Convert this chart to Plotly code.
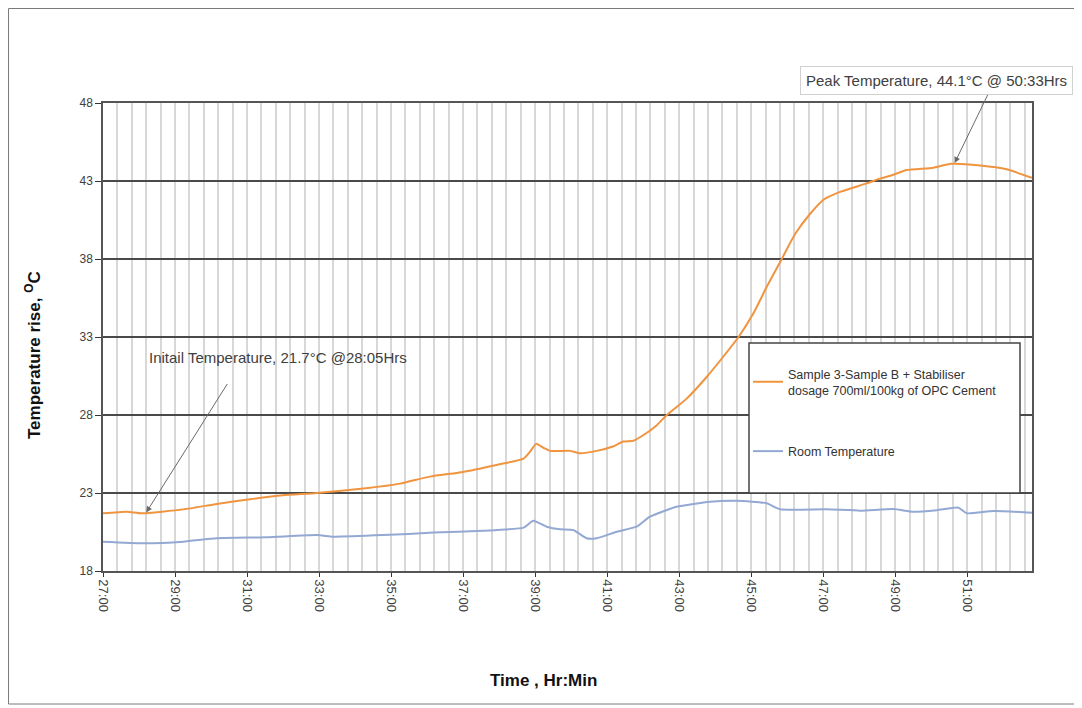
import plotly.graph_objects as go

# ---- data (time in decimal hours, temperature in °C) ----
sample_time = [27.0, 27.66, 28.08, 29.23, 30.16, 31.08, 32.0, 32.94, 34.3, 35.25, 36.08, 37.0,
               37.93, 38.68, 38.86, 39.03, 39.23, 39.42, 39.97, 40.25, 40.71, 41.18, 41.45,
               41.73, 42.0, 42.38, 42.66, 43.21, 43.77, 44.23, 44.65, 45.06, 45.43, 45.85,
               46.22, 46.64, 47.01, 47.47, 48.21, 48.58, 48.95, 49.32, 50.06, 50.55, 51.36,
               52.1, 52.8]
sample_temp = [21.7, 21.8, 21.7, 21.95, 22.3, 22.6, 22.85, 23.0, 23.3, 23.6, 24.05, 24.35,
               24.8, 25.2, 25.65, 26.15, 25.9, 25.7, 25.7, 25.55, 25.7, 26.0, 26.3,
               26.35, 26.7, 27.35, 28.0, 29.05, 30.45, 31.75, 33.0, 34.5, 36.2, 38.0,
               39.6, 40.9, 41.8, 42.3, 42.85, 43.15, 43.4, 43.7, 43.85, 44.1, 44.0,
               43.75, 43.2]

room_time = [27.0, 28.12, 29.23, 30.16, 31.55, 32.94, 33.4, 34.79, 36.18, 37.56, 38.68, 38.95,
             39.32, 39.69, 40.06, 40.43, 40.71, 41.27, 41.82, 42.19, 42.93, 43.86, 44.6,
             45.43, 45.8, 47.1, 48.03, 48.95, 49.5, 50.16, 50.76, 50.99, 51.73, 52.8]
room_temp = [19.88, 19.78, 19.88, 20.1, 20.16, 20.3, 20.2, 20.3, 20.46, 20.58, 20.78, 21.22,
             20.84, 20.67, 20.63, 20.1, 20.1, 20.52, 20.84, 21.48, 22.12, 22.44, 22.5,
             22.34, 21.96, 21.96, 21.87, 21.97, 21.8, 21.9, 22.06, 21.7, 21.85, 21.74]

tick_values = [27, 29, 31, 33, 35, 37, 39, 41, 43, 45, 47, 49, 51]
tick_labels = ["27:00", "29:00", "31:00", "33:00", "35:00", "37:00", "39:00", "41:00",
               "43:00", "45:00", "47:00", "49:00", "51:00"]

series_names = ["Sample 3-Sample B + Stabiliser<br>dosage 700ml/100kg of OPC Cement",
                "Room Temperature"]

FONT = "Liberation Sans, Arial, sans-serif"

# page offset of the figure (browser body margin) is 8px; plot area on page: x 103..1032, y 103..571
PL, PT, PW, PH = 103, 103, 929, 468


def px(xp):
    return (xp - PL) / PW


def py(yp):
    return (PT + PH - yp) / PH


fig = go.Figure()
fig.add_trace(go.Scatter(x=sample_time, y=sample_temp, mode="lines", name=series_names[0],
                         line=dict(color="#F0943F", width=2, shape="spline", smoothing=0.5),
                         legendgroup="a"))
fig.add_trace(go.Scatter(x=room_time, y=room_temp, mode="lines", name=series_names[1],
                         line=dict(color="#93A8D3", width=2, shape="spline", smoothing=0.5),
                         legendgroup="b"))

fig.update_layout(
    width=1074, height=700,
    margin=dict(l=95, r=50, t=95, b=137),
    paper_bgcolor="white", plot_bgcolor="white",
    font=dict(family=FONT, size=12, color="#404040"),
    showlegend=True,
    legend=dict(x=px(748), y=py(359), xanchor="left", yanchor="top",
                bgcolor="rgba(0,0,0,0)", borderwidth=0,
                font=dict(family=FONT, size=12.5, color="#333333"),
                tracegroupgap=42, itemwidth=30),
    xaxis=dict(range=[27, 52.8], tickmode="array", tickvals=tick_values, ticktext=tick_labels,
               tickangle=90, showgrid=True, gridcolor="#d8d8d8", gridwidth=1.5,
               minor=dict(tick0=27, dtick=0.4, showgrid=True, gridcolor="#d8d8d8", gridwidth=1.5),
               showline=True, linecolor="#555555", linewidth=1.5, mirror=True,
               ticks="outside", ticklen=4, tickcolor="#333333", zeroline=False,
               tickfont=dict(size=13, color="#404040")),
    yaxis=dict(range=[18, 48], dtick=5, tick0=18, showgrid=True, gridcolor="#4a4a4a",
               gridwidth=1.5, showline=True, linecolor="#555555", linewidth=1.5, mirror=True,
               ticks="outside", ticklen=6, tickcolor="#333333", zeroline=False,
               tickfont=dict(size=12, color="#404040")),
)

# outer frame and legend box
fig.add_shape(type="rect", xref="paper", yref="paper", x0=-0.1017, x1=px(1076), y0=py(704), y1=1.2019,
              line=dict(color="#7a7a7a", width=1), fillcolor="rgba(0,0,0,0)", layer="below")
fig.add_shape(type="rect", xref="paper", yref="paper", x0=px(749), x1=px(1020), y0=py(493), y1=py(343),
              line=dict(color="#444444", width=1.5), fillcolor="white", layer="above")

# axis titles
fig.add_annotation(xref="paper", yref="paper", x=px(33), y=py(355), textangle=-90,
                   xanchor="center", yanchor="middle",
                   text="Temperature rise, <sup>O</sup>C", showarrow=False,
                   font=dict(family=FONT, size=17, color="#111111", weight="bold"))
fig.add_annotation(xref="paper", yref="paper", x=px(543), y=py(680),
                   xanchor="center", yanchor="middle",
                   text="Time , Hr:Min", showarrow=False,
                   font=dict(family=FONT, size=17, color="#111111", weight="bold"))

# initial temperature annotation
fig.add_annotation(x=28.2, y=21.75, ax=82, ay=-130, text="", showarrow=True,
                   arrowhead=2, arrowsize=1.2, arrowwidth=1, arrowcolor="#6a6a6a")
fig.add_annotation(xref="paper", yref="paper", x=px(278), y=py(357),
                   xanchor="center", yanchor="middle",
                   text="Initail Temperature, 21.7°C @28:05Hrs", showarrow=False,
                   font=dict(family=FONT, size=15, color="#404040"))

# peak temperature annotation
fig.add_annotation(x=50.65, y=44.15, ax=36, ay=-74, text="", showarrow=True,
                   arrowhead=2, arrowsize=1.2, arrowwidth=1, arrowcolor="#6a6a6a")
fig.add_annotation(xref="paper", yref="paper", x=px(936), y=py(81),
                   xanchor="center", yanchor="middle",
                   text="Peak Temperature, 44.1°C @ 50:33Hrs", showarrow=False,
                   bordercolor="#d0d0d0", borderwidth=1, borderpad=5, bgcolor="white",
                   font=dict(family=FONT, size=15, color="#404040"))

fig.write_html("out.html")
